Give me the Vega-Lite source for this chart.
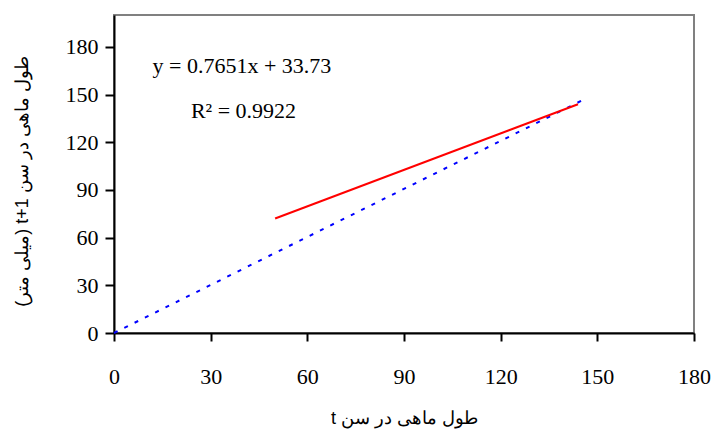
{
  "$schema": "https://vega.github.io/schema/vega-lite/v6.json",
  "width": 580,
  "height": 318,
  "autosize": "none",
  "padding": {"left": 114, "top": 15, "right": 21, "bottom": 97},
  "background": "white",
  "config": {
    "view": {"stroke": "#808080", "strokeWidth": 2},
    "axis": {
      "grid": false,
      "labelFlush": false,
      "labelOverlap": false,
      "domainColor": "black",
      "domainWidth": 2,
      "tickColor": "black",
      "tickWidth": 2,
      "labelFont": "Liberation Serif",
      "labelFontSize": 22,
      "labelColor": "black",
      "titleFont": "Liberation Sans",
      "titleFontSize": 18,
      "titleFontWeight": "normal",
      "titleColor": "black"
    }
  },
  "datasets": {
    "identity": [
      {"x": 0, "y": 0},
      {"x": 145, "y": 146}
    ],
    "fit": [
      {"x": 50, "y": 71.98},
      {"x": 144, "y": 143.9}
    ],
    "notes": [
      {"x": 39.7, "y": 163.5, "label": "y = 0.7651x + 33.73"},
      {"x": 40.2, "y": 135.2, "label": "R² = 0.9922"}
    ]
  },
  "layer": [
    {
      "data": {"name": "identity"},
      "mark": {"type": "line", "color": "#0000ff", "strokeWidth": 2, "strokeDash": [4, 7.5]},
      "encoding": {
        "x": {
          "field": "x", "type": "quantitative",
          "scale": {"domain": [0, 180], "nice": false, "zero": true},
          "axis": {
            "values": [0, 30, 60, 90, 120, 150, 180],
            "tickSize": 8,
            "labelPadding": 25,
            "title": "t طول ماهی در سن",
            "titleBaseline": "alphabetic",
            "titleY": 90
          }
        },
        "y": {
          "field": "y", "type": "quantitative",
          "scale": {"domain": [0, 200], "nice": false},
          "axis": {
            "values": [0, 30, 60, 90, 120, 150, 180],
            "tickSize": 9,
            "labelPadding": 7,
            "title": "(میلی متر) t+1 طول ماهی در سن",
            "titleX": -92,
            "titleY": 166,
            "titleBaseline": "middle"
          }
        }
      }
    },
    {
      "data": {"name": "fit"},
      "mark": {"type": "line", "color": "#ff0000", "strokeWidth": 2},
      "encoding": {
        "x": {"field": "x", "type": "quantitative"},
        "y": {"field": "y", "type": "quantitative"}
      }
    },
    {
      "data": {"name": "notes"},
      "mark": {"type": "text", "font": "Liberation Serif", "fontSize": 22, "color": "black", "align": "center", "baseline": "alphabetic"},
      "encoding": {
        "x": {"field": "x", "type": "quantitative"},
        "y": {"field": "y", "type": "quantitative"},
        "text": {"field": "label"}
      }
    }
  ]
}
